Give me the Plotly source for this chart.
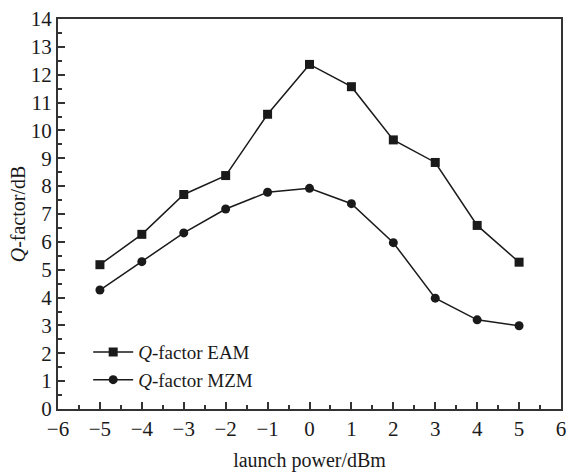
import plotly.graph_objects as go

x_power = [-5, -4, -3, -2, -1, 0, 1, 2, 3, 4, 5]
q_eam = [5.18, 6.27, 7.70, 8.38, 10.58, 12.37, 11.57, 9.66, 8.85, 6.59, 5.27]
q_mzm = [4.27, 5.29, 6.32, 7.18, 7.78, 7.92, 7.37, 5.97, 3.98, 3.20, 2.99]
x_ticks = list(range(-6, 7))
y_ticks = list(range(0, 15))

FONT = "Liberation Serif"
INK = "#1a1a1a"

fig = go.Figure()
fig.add_trace(go.Scatter(
    x=x_power, y=q_eam, mode="lines+markers", name="<i>Q</i>-factor EAM",
    line=dict(color=INK, width=1.5),
    marker=dict(symbol="square", size=9, color=INK),
))
fig.add_trace(go.Scatter(
    x=x_power, y=q_mzm, mode="lines+markers", name="<i>Q</i>-factor MZM",
    line=dict(color=INK, width=1.5),
    marker=dict(symbol="circle", size=9, color=INK),
))

axis_common = dict(
    showline=True, linecolor="#333333", linewidth=2, mirror=True,
    ticks="inside", ticklen=7, tickwidth=1.5, tickcolor="#333333",
    showgrid=False, zeroline=False,
    tickfont=dict(family=FONT, size=21, color=INK),
    minor=dict(ticks="inside", ticklen=4, tickwidth=1.5, tickcolor="#333333", showgrid=False),
)

fig.update_xaxes(
    range=[-6, 6], tickvals=x_ticks, ticktext=[("\u2212" + str(-v)) if v < 0 else str(v) for v in x_ticks],
    minor_dtick=0.5, minor_tick0=0,
    title=dict(text="launch power/dBm", font=dict(family=FONT, size=20, color=INK), standoff=13),
    **axis_common,
)
fig.update_yaxes(
    range=[0, 14], tickvals=y_ticks, ticktext=[str(v) for v in y_ticks],
    minor_dtick=0.5, minor_tick0=0,
    title=dict(text="<i>Q</i>-factor/dB", font=dict(family=FONT, size=20, color=INK), standoff=0),
    **axis_common,
)

fig.update_layout(
    width=573, height=475,
    margin=dict(l=58, r=7, t=15, b=62),
    plot_bgcolor="white", paper_bgcolor="white",
    legend=dict(
        x=0.06, y=0.11, xanchor="left", yanchor="middle",
        font=dict(family=FONT, size=19, color=INK),
        bgcolor="rgba(0,0,0,0)", tracegroupgap=0, itemwidth=40,
    ),
    font=dict(family=FONT, color=INK),
)

fig.write_html("out.html")
